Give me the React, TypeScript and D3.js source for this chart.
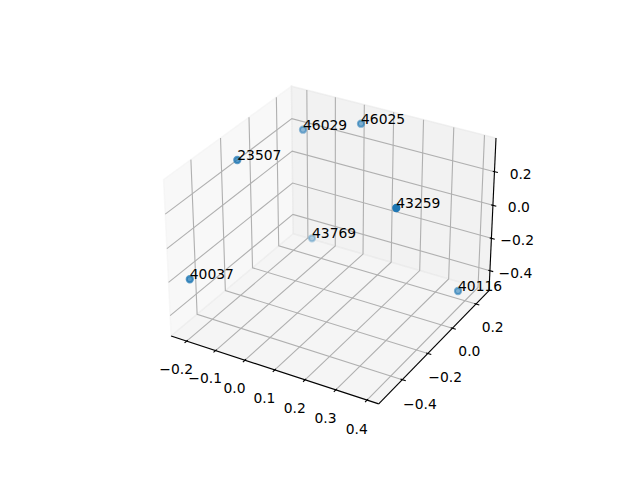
import React, { useEffect, useRef } from 'react';
import * as d3 from 'd3';

// scatter points (x, y, z) and the text written next to each
const labels = ['23507', '46029', '46025', '43259', '43769', '40037', '40116'];
const xs = [-0.1918, -0.1692, 0.0173, 0.3573, -0.1588, -0.2104, 0.3931];
const ys = [-0.2133, 0.216, 0.2485, -0.2765, 0.2571, -0.5207, 0.154];
const zs = [0.3058, 0.2302, 0.3302, 0.3376, -0.4667, -0.1985, -0.4343];

const xTicks = [-0.2, -0.1, 0.0, 0.1, 0.2, 0.3, 0.4];
const yTicks = [-0.4, -0.2, 0.0, 0.2];
const zTicks = [-0.4, -0.2, 0.0, 0.2];

const W = 640;
const H = 480;

type V3 = [number, number, number];

const dot = (a: number[], b: number[]) => a[0] * b[0] + a[1] * b[1] + a[2] * b[2];
const cross = (a: number[], b: number[]): V3 => [
  a[1] * b[2] - a[2] * b[1],
  a[2] * b[0] - a[0] * b[2],
  a[0] * b[1] - a[1] * b[0],
];
const norm = (a: number[]): V3 => {
  const n = Math.hypot(a[0], a[1], a[2]);
  return [a[0] / n, a[1] / n, a[2] / n];
};

const fmt = (v: number) => v.toFixed(1).replace('-', '\u2212');

export default function App() {
  const svgRef = useRef<SVGSVGElement>(null);

  useEffect(() => {
    const svg = d3.select(svgRef.current);
    svg.selectAll('*').remove();

    const pt = 100 / 72;
    const fontSize = 10 * pt;
    const font = 'DejaVu Sans, sans-serif';

    // default subplot area, made square
    const axSize = Math.min(0.775 * W, 0.77 * H);
    const axLeft = 0.125 * W + (0.775 * W - axSize) / 2;
    const axTop = 0.12 * H + (0.77 * H - axSize) / 2;

    const dist = 10;
    const elev = (30 * Math.PI) / 180;
    const azim = (-60 * Math.PI) / 180;

    const limits = (v: number[]) => {
      const [lo, hi] = d3.extent(v) as [number, number];
      const m = (hi - lo) * 0.05;
      return [lo - m, hi + m];
    };
    const lims = [limits(xs), limits(ys), limits(zs)];
    const deltas = lims.map(l => (l[1] - l[0]) / 12);
    const mins = lims.map((l, i) => l[0] - deltas[i] / 4);
    const maxs = lims.map((l, i) => l[1] + deltas[i] / 4);

    // box aspect 4:4:3
    const aspect = [4, 4, 3];
    const an = Math.hypot(4, 4, 3);
    const box = aspect.map(a => (a * 1.8294640721620434) / an);
    const toBox = lims.map((l, i) => d3.scaleLinear().domain(l).range([0, box[i]]));

    const w = norm([Math.cos(elev) * Math.cos(azim), Math.cos(elev) * Math.sin(azim), Math.sin(elev)]);
    const u = norm(cross([0, 0, 1], w));
    const v = cross(w, u);

    const sx = d3.scaleLinear().domain([-0.95 / dist, 0.9 / dist]).range([axLeft, axLeft + axSize]);
    const sy = d3.scaleLinear().domain([-0.95 / dist, 0.9 / dist]).range([axTop + axSize, axTop]);

    const proj = (p: number[]) => {
      const q = [0, 1, 2].map(i => toBox[i](p[i]) - box[i] / 2);
      const den = dist - dot(w, q);
      return [sx(dot(u, q) / den), sy(dot(v, q) / den), -dist / den];
    };

    const line = d3.line<number[]>().x(d => proj(d)[0]).y(d => proj(d)[1]);

    svg.append('rect').attr('width', W).attr('height', H).attr('fill', '#ffffff');

    const [x0, y0, z0] = mins;
    const [x1, y1, z1] = maxs;

    // panes
    const panes = [
      { pts: [[x0, y0, z0], [x0, y1, z0], [x0, y1, z1], [x0, y0, z1]], c: 0.95 },
      { pts: [[x0, y1, z0], [x1, y1, z0], [x1, y1, z1], [x0, y1, z1]], c: 0.9 },
      { pts: [[x0, y0, z0], [x1, y0, z0], [x1, y1, z0], [x0, y1, z0]], c: 0.925 },
    ];
    panes.forEach(p => {
      const g = Math.round(p.c * 255);
      svg.append('path')
        .attr('d', line(p.pts)! + 'Z')
        .attr('fill', `rgb(${g},${g},${g})`)
        .attr('fill-opacity', 0.5)
        .attr('stroke', `rgb(${g},${g},${g})`)
        .attr('stroke-opacity', 0.5)
        .attr('stroke-width', pt);
    });

    // grid lines on the back panes
    const grid = svg.append('g')
      .attr('fill', 'none')
      .attr('stroke', '#b0b0b0')
      .attr('stroke-width', 0.8 * pt);
    xTicks.forEach(t => {
      grid.append('path').attr('d', line([[t, y0, z0], [t, y1, z0], [t, y1, z1]]));
    });
    yTicks.forEach(t => {
      grid.append('path').attr('d', line([[x0, t, z1], [x0, t, z0], [x1, t, z0]]));
    });
    zTicks.forEach(t => {
      grid.append('path').attr('d', line([[x1, y1, t], [x0, y1, t], [x0, y0, t]]));
    });

    // axis lines, ticks and tick labels
    const axes = svg.append('g');
    const lw = 0.8 * pt;
    const L = ((3.5 + 8) * 48) / (72 * 2 * (axSize / 100));
    const [dx, dy, dz] = deltas;

    const drawAxis = (
      ends: number[][],
      ticks: number[],
      tickSeg: (t: number) => number[][],
      labelPos: (t: number) => number[],
    ) => {
      axes.append('path')
        .attr('d', line(ends))
        .attr('stroke', '#000')
        .attr('stroke-width', lw)
        .attr('fill', 'none');
      ticks.forEach(t => {
        axes.append('path')
          .attr('d', line(tickSeg(t)))
          .attr('stroke', '#000')
          .attr('stroke-width', lw);
        const [lx, ly] = proj(labelPos(t));
        axes.append('text')
          .attr('x', lx)
          .attr('y', ly + 0.76 * fontSize)
          .attr('text-anchor', 'middle')
          .attr('font-family', font)
          .attr('font-size', fontSize)
          .attr('fill', '#000')
          .text(fmt(t));
      });
    };

    drawAxis(
      [[x0, y0, z0], [x1, y0, z0]],
      xTicks,
      t => [[t, y0 - 0.2 * dy, z0], [t, y0 + 0.1 * dy, z0]],
      t => [t, y0 - L * dy, z0 - L * dz],
    );
    drawAxis(
      [[x1, y0, z0], [x1, y1, z0]],
      yTicks,
      t => [[x1 + 0.2 * dx, t, z0], [x1 - 0.1 * dx, t, z0]],
      t => [x1 + L * dx, t, z0 - L * dz],
    );
    drawAxis(
      [[x1, y1, z0], [x1, y1, z1]],
      zTicks,
      t => [[x1 + 0.2 * dx, y1, t], [x1 - 0.1 * dx, y1, t]],
      t => [x1 + L * dx, y1 + L * dy, t],
    );

    // scatter with depth shading, far points first
    const pts = labels.map((label, i) => {
      const [px, py, pz] = proj([xs[i], ys[i], zs[i]]);
      return { label, px, py, pz };
    });
    const [zmin, zmax] = d3.extent(pts, d => d.pz) as [number, number];
    const shade = d3.scaleLinear().domain([zmin, zmax]).range([1, 0.3]);
    const sorted = pts.slice().sort((a, b) => b.pz - a.pz);

    svg.append('g')
      .selectAll('circle')
      .data(sorted)
      .enter()
      .append('circle')
      .attr('cx', d => d.px)
      .attr('cy', d => d.py)
      .attr('r', (Math.sqrt(20) / 2) * pt)
      .attr('fill', '#1f77b4')
      .attr('stroke', '#1f77b4')
      .attr('stroke-width', 1.5 * pt)
      .attr('fill-opacity', d => shade(d.pz))
      .attr('stroke-opacity', d => shade(d.pz));

    svg.append('g')
      .selectAll('text')
      .data(pts)
      .enter()
      .append('text')
      .attr('x', d => d.px)
      .attr('y', d => d.py)
      .attr('font-family', font)
      .attr('font-size', fontSize)
      .attr('fill', '#000')
      .text(d => d.label);
  }, []);

  return (
    <svg
      ref={svgRef}
      width={W}
      height={H}
      style={{ position: 'absolute', left: 0, top: 0, display: 'block' }}
    />
  );
}
